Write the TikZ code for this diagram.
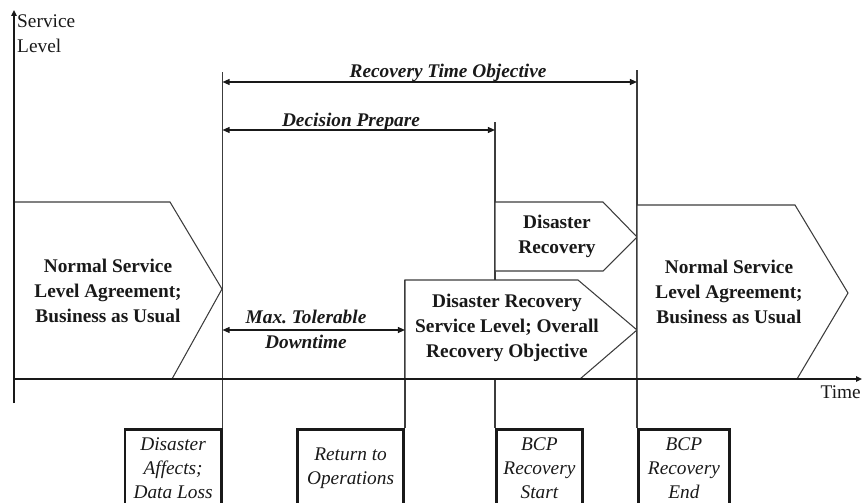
\documentclass[tikz,border=0pt]{standalone}
\usepackage{fontspec}
\setmainfont{Liberation Serif}
\usepackage{tikz}
\usetikzlibrary{arrows.meta, positioning}
\definecolor{mydark}{RGB}{25,25,25}
\definecolor{mygray}{RGB}{60,60,60}
\tikzset{
  axisline/.style={line width=1.6pt, color=mydark},
  markline/.style={line width=1.3pt, color=mygray},
  phase/.style={draw=mygray, fill=white, line width=0.9pt},
  phasetext/.style={align=center, inner sep=0pt,
    font=\fontsize{16.5}{21.3}\selectfont\bfseries, text=mydark},
  dimarrow/.style={{Triangle[length=6pt,width=5pt]}-{Triangle[length=6pt,width=5pt]},
    line width=1.1pt, color=mydark},
  dimlabel/.style={align=center, inner sep=0pt,
    font=\fontsize{16.5}{21.3}\selectfont\bfseries\itshape, text=mydark},
  eventbox/.style={draw=mydark, line width=2.4pt, align=center, inner sep=0pt,
    minimum height=2.3cm, font=\fontsize{16.5}{20.5}\selectfont\itshape, text=mydark},
  axislabel/.style={inner sep=0pt, font=\fontsize{16.5}{21.3}\selectfont, text=mydark}
}
\begin{document}
\begin{tikzpicture}[x=0.03cm, y=-0.03cm]
  \clip (0,0) rectangle (863,503);

  % ── event boxes below the time axis ────────────────────────────────────────
  \node[eventbox, anchor=north east, minimum width=2.88cm] (evDis) at (222.5,428) {Disaster\\Affects;\\Data Loss};
  \node[eventbox, anchor=north east, minimum width=3.18cm] (evRet) at (405,428) {Return to\\Operations};
  \node[eventbox, anchor=north west, minimum width=2.58cm] (evBst) at (495,428) {BCP\\Recovery\\Start};
  \node[eventbox, anchor=north west, minimum width=2.73cm] (evBen) at (637,428) {BCP\\Recovery\\End};

  % ── milestone lines ───────────────────────────────────────────────────────
  \coordinate (tDis) at (222.5,72);
  \coordinate (tRet) at (405,280);
  \coordinate (tBst) at (495,122);
  \coordinate (tBen) at (637,70);
  \draw[markline] (tDis) -- (evDis.north east);
  \draw[markline] (tRet) -- (evRet.north west -| tRet);
  \draw[markline] (tBst) -- (evBst.north west);
  \draw[markline] (tBen) -- (evBen.north west);

  % ── phases ────────────────────────────────────────────────────────────────
  \draw[phase] (14,202) -- (170,202) -- (222,289) -- (172,379) -- (14,379) -- cycle;
  \node[phasetext] (nslA) at (108,291) {Normal Service\\Level Agreement;\\Business as Usual};

  \draw[phase] (495,202) -- (603,202) -- (637,237) -- (603,271) -- (495,271) -- cycle;
  \node[phasetext] (drec) at (557,236) {Disaster\\Recovery};

  \draw[phase] (405,280) -- (578,280) -- (637,330) -- (580,379) -- (405,379) -- cycle;
  \node[phasetext] (drsl) at (507,328) {Disaster Recovery\\Service Level; Overall\\Recovery Objective};

  \draw[phase] (637,205) -- (795,205) -- (848,293) -- (797,379) -- (637,379) -- cycle;
  \node[phasetext] (nslB) at (729,292) {Normal Service\\Level Agreement;\\Business as Usual};

  % ── axes ──────────────────────────────────────────────────────────────────
  \coordinate (ybot) at (14,403);
  \coordinate (ytop) at (14,10);
  \coordinate (org) at (14,379);
  \coordinate (xend) at (862,379);
  \draw[axisline, -{Triangle[length=5pt,width=4.5pt]}] (ybot) -- (ytop);
  \draw[axisline, -{Triangle[length=5pt,width=4.5pt]}] (org) -- (xend);
  \node[axislabel, anchor=base west] (ylabA) at (17,28) {Service};
  \node[axislabel, anchor=base west] (ylabB) at (17,53) {Level};
  \node[axislabel, anchor=base east] (tlab) at (861,398) {Time};

  % ── time spans ────────────────────────────────────────────────────────────
  \coordinate (rtoL) at (222.5,82);
  \coordinate (rtoR) at (637,82);
  \draw[dimarrow] (rtoL) -- (rtoR);
  \node[dimlabel, anchor=base] (rto) at (448,77) {Recovery Time Objective};

  \coordinate (dpL) at (222.5,130);
  \coordinate (dpR) at (495,130);
  \draw[dimarrow] (dpL) -- (dpR);
  \node[dimlabel, anchor=base] (dprep) at (351,126) {Decision Prepare};

  \coordinate (mtdL) at (222.5,330);
  \coordinate (mtdR) at (405,330);
  \draw[dimarrow] (mtdL) -- (mtdR);
  \node[dimlabel] (mtd) at (306,329) {Max.\ Tolerable\\Downtime};
\end{tikzpicture}
\end{document}
